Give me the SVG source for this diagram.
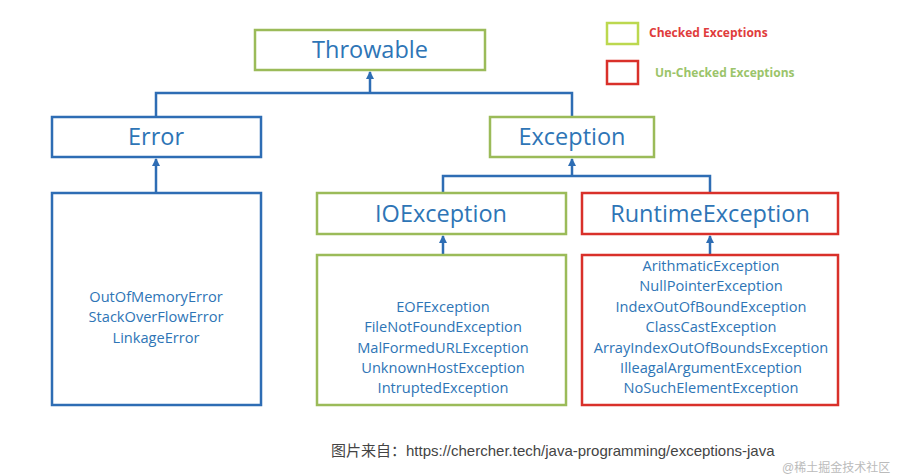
<svg xmlns="http://www.w3.org/2000/svg" width="904" height="476" viewBox="0 0 904 476">
<defs>
<marker id="ar" markerWidth="8" markerHeight="8" refX="7" refY="4" orient="auto" markerUnits="userSpaceOnUse"><path d="M0,0 L8,4 L0,8 z" fill="#2e6db4"/></marker>
<style>
.g{fill:#fff;stroke:#9bbb59;stroke-width:2.5}
.b{fill:#fff;stroke:#2e6db4;stroke-width:2.5}
.r{fill:#fff;stroke:#d9302a;stroke-width:2.5}
.h{font-family:"Open Sans","Liberation Sans",sans-serif;font-size:23.5px;fill:#2e75b6;text-anchor:middle}
.t{font-family:"Open Sans","Liberation Sans",sans-serif;font-size:14.6px;fill:#2e75b6;text-anchor:middle}
.c{fill:none;stroke:#2e6db4;stroke-width:2.5}
</style>
</defs>
<rect width="904" height="476" fill="#fff"/>
<g id="connectors">
<path class="c" d="M156,117 V93 H572 V117"/>
<path class="c" d="M370,93 V72" marker-end="url(#ar)"/>
<path class="c" d="M443,193 V176 H710 V193"/>
<path class="c" d="M572,176 V159" marker-end="url(#ar)"/>
<path class="c" d="M156,193 V159" marker-end="url(#ar)"/>
<path class="c" d="M443,255 V236" marker-end="url(#ar)"/>
<path class="c" d="M710,255 V236" marker-end="url(#ar)"/>
</g>
<g id="throwable"><rect class="g" x="255" y="30" width="230" height="40"/><text class="h" x="370" y="58">Throwable</text></g>
<g id="error"><rect class="b" x="52" y="117" width="209" height="40"/><text class="h" x="156" y="145">Error</text></g>
<g id="exception"><rect class="g" x="490" y="117" width="164" height="40"/><text class="h" x="572" y="145">Exception</text></g>
<g id="ioexception"><rect class="g" x="317" y="193" width="249" height="41"/><text class="h" x="441" y="222">IOException</text></g>
<g id="runtimeexception"><rect class="r" x="582" y="193" width="256" height="41"/><text class="h" x="710" y="222">RuntimeException</text></g>
<g id="errorlist"><rect class="b" x="52" y="193" width="209" height="212"/>
<text class="t" x="156" y="302">OutOfMemoryError</text><text class="t" x="156" y="322">StackOverFlowError</text><text class="t" x="156" y="343">LinkageError</text></g>
<g id="iolist"><rect class="g" x="317" y="255" width="249" height="150"/>
<text class="t" x="443" y="312">EOFException</text><text class="t" x="443" y="332">FileNotFoundException</text><text class="t" x="443" y="353">MalFormedURLException</text><text class="t" x="443" y="373">UnknownHostException</text><text class="t" x="443" y="393">IntruptedException</text></g>
<g id="runtimelist"><rect class="r" x="582" y="255" width="256" height="150"/>
<text class="t" x="711" y="271">ArithmaticException</text><text class="t" x="711" y="291">NullPointerException</text><text class="t" x="711" y="312">IndexOutOfBoundException</text><text class="t" x="711" y="332">ClassCastException</text><text class="t" x="711" y="353">ArrayIndexOutOfBoundsException</text><text class="t" x="711" y="373">IlleagalArgumentException</text><text class="t" x="711" y="393">NoSuchElementException</text></g>
<g id="legend">
<rect x="607" y="23" width="31" height="21" fill="#fff" stroke="#bcd84f" stroke-width="2.5"/>
<text x="649" y="37" font-family="Open Sans,Liberation Sans,sans-serif" font-size="12" font-weight="bold" fill="#e03c3c">Checked Exceptions</text>
<rect x="607" y="61" width="31" height="23" fill="#fff" stroke="#d9302a" stroke-width="2.5"/>
<text x="655" y="77" font-family="Open Sans,Liberation Sans,sans-serif" font-size="12" font-weight="bold" fill="#9bc46a">Un-Checked Exceptions</text>
</g>
<text x="331" y="456" font-family="Liberation Sans,Noto Sans CJK SC,sans-serif" font-size="15" fill="#444">图片来自：https://chercher.tech/java-programming/exceptions-java</text>
<text x="782" y="472" font-family="Liberation Sans,Noto Sans CJK SC,sans-serif" font-size="12" fill="#bbb">@稀土掘金技术社区</text>
</svg>
